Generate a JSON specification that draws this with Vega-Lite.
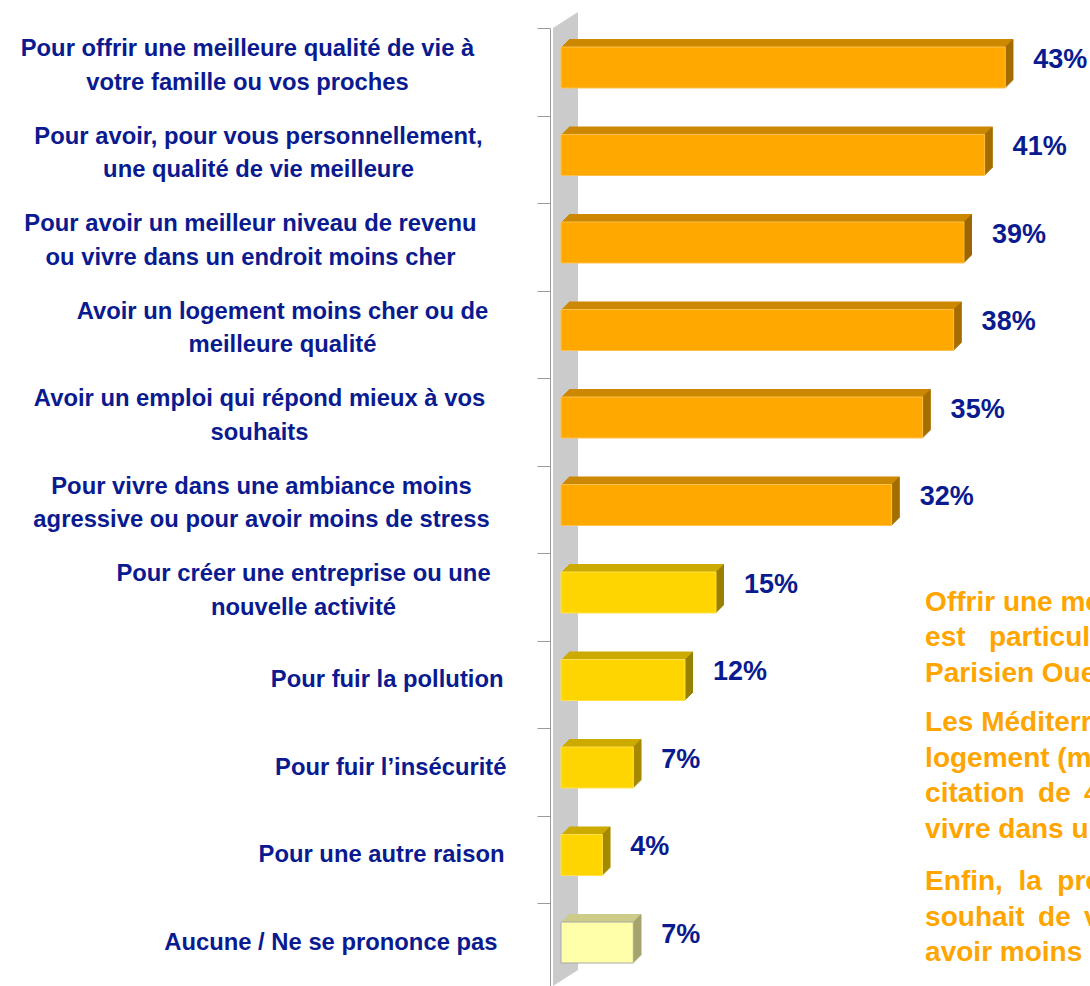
{
  "$schema": "https://vega.github.io/schema/vega-lite/v6.json",
  "width": 529,
  "height": 958,
  "autosize": {"type": "none"},
  "padding": {"left": 561, "top": 28, "right": 0, "bottom": 0},
  "background": "white",
  "config": {"view": {"stroke": null}, "font": "Liberation Sans"},
  "data": {
    "values": [
      {"raison": "Pour offrir une meilleure qualité de vie à|votre famille ou vos proches", "pct": 0.43, "groupe": "principale"},
      {"raison": "Pour avoir, pour vous personnellement,|une qualité de vie meilleure", "pct": 0.41, "groupe": "principale"},
      {"raison": "Pour avoir un meilleur niveau de revenu|ou vivre dans un endroit moins cher", "pct": 0.39, "groupe": "principale"},
      {"raison": "Avoir un logement moins cher ou de|meilleure qualité", "pct": 0.38, "groupe": "principale"},
      {"raison": "Avoir un emploi qui répond mieux à vos|souhaits", "pct": 0.35, "groupe": "principale"},
      {"raison": "Pour vivre dans une ambiance moins|agressive ou pour avoir moins de stress", "pct": 0.32, "groupe": "principale"},
      {"raison": "Pour créer une entreprise ou une|nouvelle activité", "pct": 0.15, "groupe": "secondaire"},
      {"raison": "Pour fuir la pollution", "pct": 0.12, "groupe": "secondaire"},
      {"raison": "Pour fuir l’insécurité", "pct": 0.07, "groupe": "secondaire"},
      {"raison": "Pour une autre raison", "pct": 0.04, "groupe": "secondaire"},
      {"raison": "Aucune / Ne se prononce pas", "pct": 0.07, "groupe": "nsp"}
    ]
  },
  "encoding": {
    "y": {
      "field": "raison", "type": "nominal", "sort": null,
      "scale": {
        "domain": [
          "Pour offrir une meilleure qualité de vie à|votre famille ou vos proches",
          "Pour avoir, pour vous personnellement,|une qualité de vie meilleure",
          "Pour avoir un meilleur niveau de revenu|ou vivre dans un endroit moins cher",
          "Avoir un logement moins cher ou de|meilleure qualité",
          "Avoir un emploi qui répond mieux à vos|souhaits",
          "Pour vivre dans une ambiance moins|agressive ou pour avoir moins de stress",
          "Pour créer une entreprise ou une|nouvelle activité",
          "Pour fuir la pollution",
          "Pour fuir l’insécurité",
          "Pour une autre raison",
          "Aucune / Ne se prononce pas"
        ],
        "range": [0, 962.5], "paddingInner": 0, "paddingOuter": 0
      },
      "axis": {
        "title": null, "offset": 11, "domainColor": "#9a9a9a", "domainWidth": 1,
        "tickColor": "#9a9a9a", "tickSize": 13, "tickWidth": 1, "tickOffset": -43.75,
        "labelOffset": {"condition": {"test": "indexof(datum.value, '|') >= 0", "value": 20.75}, "value": 39.25},
        "labelExpr": "split(datum.label, '|')",
        "labelFont": "Liberation Sans", "labelFontSize": 23.8, "labelFontWeight": "bold",
        "labelColor": "#0a1a8f", "labelLineHeight": 33.5, "labelLimit": 1000,
        "labelBaseline": "middle",
        "labelAlign": {"condition": {"test": "indexof(datum.value, '|') >= 0", "value": "center"}, "value": "right"},
        "labelPadding": {
          "condition": [
            {"test": "indexof(datum.value, 'Pour offrir') === 0", "value": 290},
            {"test": "indexof(datum.value, 'Pour avoir, pour') === 0", "value": 279},
            {"test": "indexof(datum.value, 'Pour avoir un meilleur') === 0", "value": 287},
            {"test": "indexof(datum.value, 'Avoir un logement') === 0", "value": 255},
            {"test": "indexof(datum.value, 'Avoir un emploi') === 0", "value": 278},
            {"test": "indexof(datum.value, 'Pour vivre') === 0", "value": 276},
            {"test": "indexof(datum.value, 'Pour créer') === 0", "value": 234},
            {"test": "indexof(datum.value, 'Pour fuir l') === 0 && indexof(datum.value, 'pollution') < 0", "value": 31},
            {"test": "indexof(datum.value, 'Aucune') === 0", "value": 40},
            {"test": "indexof(datum.value, 'Pour une autre') === 0", "value": 33}
          ],
          "value": 34
        }
      }
    }
  },
  "layer": [
    {
      "data": {"values": [{"ancre": "Pour vivre dans une ambiance moins|agressive ou pour avoir moins de stress"}]},
      "mark": {"type": "point", "filled": true, "opacity": 1, "size": 948676, "color": "#cbcbcb", "strokeWidth": 0, "yOffset": -10.25,
        "shape": "M-0.02567,-0.9671L0.02567,-1L0.02567,0.9671L-0.02567,1Z"},
      "encoding": {
        "x": {"datum": 0.004355, "type": "quantitative", "axis": null},
        "y": {"field": "ancre", "type": "nominal"}
      }
    },
    {
      "encoding": {
        "x": {"field": "pct", "type": "quantitative", "scale": {"domain": [0, 0.512], "nice": false}, "axis": null}
      },
      "layer": [
        {"mark": {"type": "bar", "size": 41, "opacity": 1, "xOffset": 1, "x2Offset": 1, "yOffset": -5.25, "y2Offset": -5.25},
         "encoding": {"color": {"condition": [{"test": "datum.groupe === 'secondaire'", "value": "#ccaa00"}, {"test": "datum.groupe === 'nsp'", "value": "#cccc88"}], "value": "#cc8800"}}},
        {"mark": {"type": "bar", "size": 41, "opacity": 1, "xOffset": 2, "x2Offset": 2, "yOffset": -6.25, "y2Offset": -6.25},
         "encoding": {"color": {"condition": [{"test": "datum.groupe === 'secondaire'", "value": "#ccaa00"}, {"test": "datum.groupe === 'nsp'", "value": "#cccc88"}], "value": "#cc8800"}}},
        {"mark": {"type": "bar", "size": 41, "opacity": 1, "xOffset": 3, "x2Offset": 3, "yOffset": -7.25, "y2Offset": -7.25},
         "encoding": {"color": {"condition": [{"test": "datum.groupe === 'secondaire'", "value": "#ccaa00"}, {"test": "datum.groupe === 'nsp'", "value": "#cccc88"}], "value": "#cc8800"}}},
        {"mark": {"type": "bar", "size": 41, "opacity": 1, "xOffset": 4, "x2Offset": 4, "yOffset": -8.25, "y2Offset": -8.25},
         "encoding": {"color": {"condition": [{"test": "datum.groupe === 'secondaire'", "value": "#ccaa00"}, {"test": "datum.groupe === 'nsp'", "value": "#cccc88"}], "value": "#cc8800"}}},
        {"mark": {"type": "bar", "size": 41, "opacity": 1, "xOffset": 5, "x2Offset": 5, "yOffset": -9.25, "y2Offset": -9.25},
         "encoding": {"color": {"condition": [{"test": "datum.groupe === 'secondaire'", "value": "#ccaa00"}, {"test": "datum.groupe === 'nsp'", "value": "#cccc88"}], "value": "#cc8800"}}},
        {"mark": {"type": "bar", "size": 41, "opacity": 1, "xOffset": 6, "x2Offset": 6, "yOffset": -10.25, "y2Offset": -10.25},
         "encoding": {"color": {"condition": [{"test": "datum.groupe === 'secondaire'", "value": "#ccaa00"}, {"test": "datum.groupe === 'nsp'", "value": "#cccc88"}], "value": "#cc8800"}}},
        {"mark": {"type": "bar", "size": 41, "opacity": 1, "xOffset": 7, "x2Offset": 7, "yOffset": -11.25, "y2Offset": -11.25},
         "encoding": {"color": {"condition": [{"test": "datum.groupe === 'secondaire'", "value": "#ccaa00"}, {"test": "datum.groupe === 'nsp'", "value": "#cccc88"}], "value": "#cc8800"}}},
        {"mark": {"type": "bar", "size": 41, "opacity": 1, "xOffset": 8, "x2Offset": 8, "yOffset": -12.25, "y2Offset": -12.25},
         "encoding": {"color": {"condition": [{"test": "datum.groupe === 'secondaire'", "value": "#ccaa00"}, {"test": "datum.groupe === 'nsp'", "value": "#cccc88"}], "value": "#cc8800"}}},
        {"mark": {"type": "tick", "size": 41, "thickness": 1, "opacity": 1, "xOffset": 0.5, "yOffset": -4.75},
         "encoding": {"color": {"condition": [{"test": "datum.groupe === 'secondaire'", "value": "#998000"}, {"test": "datum.groupe === 'nsp'", "value": "#999966"}], "value": "#996600"}}},
        {"mark": {"type": "tick", "size": 41, "thickness": 1, "opacity": 1, "xOffset": 1.5, "yOffset": -5.75},
         "encoding": {"color": {"condition": [{"test": "datum.groupe === 'secondaire'", "value": "#998000"}, {"test": "datum.groupe === 'nsp'", "value": "#999966"}], "value": "#996600"}}},
        {"mark": {"type": "tick", "size": 41, "thickness": 1, "opacity": 1, "xOffset": 2.5, "yOffset": -6.75},
         "encoding": {"color": {"condition": [{"test": "datum.groupe === 'secondaire'", "value": "#998000"}, {"test": "datum.groupe === 'nsp'", "value": "#999966"}], "value": "#996600"}}},
        {"mark": {"type": "tick", "size": 41, "thickness": 1, "opacity": 1, "xOffset": 3.5, "yOffset": -7.75},
         "encoding": {"color": {"condition": [{"test": "datum.groupe === 'secondaire'", "value": "#998000"}, {"test": "datum.groupe === 'nsp'", "value": "#999966"}], "value": "#996600"}}},
        {"mark": {"type": "tick", "size": 41, "thickness": 1, "opacity": 1, "xOffset": 4.5, "yOffset": -8.75},
         "encoding": {"color": {"condition": [{"test": "datum.groupe === 'secondaire'", "value": "#998000"}, {"test": "datum.groupe === 'nsp'", "value": "#999966"}], "value": "#996600"}}},
        {"mark": {"type": "tick", "size": 41, "thickness": 1, "opacity": 1, "xOffset": 5.5, "yOffset": -9.75},
         "encoding": {"color": {"condition": [{"test": "datum.groupe === 'secondaire'", "value": "#998000"}, {"test": "datum.groupe === 'nsp'", "value": "#999966"}], "value": "#996600"}}},
        {"mark": {"type": "tick", "size": 41, "thickness": 1, "opacity": 1, "xOffset": 6.5, "yOffset": -10.75},
         "encoding": {"color": {"condition": [{"test": "datum.groupe === 'secondaire'", "value": "#998000"}, {"test": "datum.groupe === 'nsp'", "value": "#999966"}], "value": "#996600"}}},
        {"mark": {"type": "tick", "size": 41, "thickness": 1, "opacity": 1, "xOffset": 7.5, "yOffset": -11.75},
         "encoding": {"color": {"condition": [{"test": "datum.groupe === 'secondaire'", "value": "#998000"}, {"test": "datum.groupe === 'nsp'", "value": "#999966"}], "value": "#996600"}}},
        {"mark": {"type": "bar", "size": 41, "opacity": 1, "strokeWidth": 1, "yOffset": -4.25, "y2Offset": -4.25},
         "encoding": {
           "color": {"condition": [{"test": "datum.groupe === 'secondaire'", "value": "#ffd500"}, {"test": "datum.groupe === 'nsp'", "value": "#ffffaa"}], "value": "#ffa800"},
           "stroke": {"condition": [{"test": "datum.groupe === 'secondaire'", "value": "#ffe14d"}, {"test": "datum.groupe === 'nsp'", "value": "#a8a8a8"}], "value": "#ffc04d"}
         }},
        {"mark": {"type": "text", "align": "left", "baseline": "middle", "dx": 28, "dy": -12, "fontSize": 27, "fontWeight": "bold", "font": "Liberation Sans", "color": "#0a1a8f"},
         "encoding": {"text": {"field": "pct", "type": "quantitative", "format": ".0%"}}}
      ]
    },
    {
      "data": {"values": [{"ancre": "Pour créer une entreprise ou une|nouvelle activité", "texte": "Offrir une meilleure qualité de vie à sa famille\nest\u00a0\u00a0\u00a0particulièrement\u00a0\u00a0\u00a0cité\u00a0\u00a0\u00a0par\u00a0\u00a0\u00a0les\nParisien Ouest (50%)."}]},
      "mark": {"type": "text", "align": "left", "baseline": "middle", "lineBreak": "\n", "lineHeight": 35.3, "dy": 6.25, "fontSize": 28, "fontWeight": "bold", "font": "Liberation Sans", "color": "#ffa500"},
      "encoding": {
        "x": {"datum": 0.3524, "type": "quantitative", "axis": null},
        "y": {"field": "ancre", "type": "nominal"},
        "text": {"field": "texte", "type": "nominal"}
      }
    },
    {
      "data": {"values": [{"ancre": "Pour fuir l’insécurité", "texte": "Les Méditerranéens mettent en avant le\nlogement (meilleure qualité ou moins cher), avec une\ncitation \u2009de \u200946%, \u2009et \u2009le \u2009souhait \u2009de\nvivre dans un endroit moins cher."}]},
      "mark": {"type": "text", "align": "left", "baseline": "middle", "lineBreak": "\n", "lineHeight": 35.7, "dy": -48.75, "fontSize": 28, "fontWeight": "bold", "font": "Liberation Sans", "color": "#ffa500"},
      "encoding": {
        "x": {"datum": 0.3524, "type": "quantitative", "axis": null},
        "y": {"field": "ancre", "type": "nominal"},
        "text": {"field": "texte", "type": "nominal"}
      }
    },
    {
      "data": {"values": [{"ancre": "Aucune / Ne se prononce pas", "texte": "Enfin,\u00a0\u00a0la\u00a0\u00a0proportion\u00a0\u00a0de\u00a0\u00a0Franciliens\nsouhait \u2009de \u2009vivre \u2009dans \u2009une \u2009ambiance\navoir moins de stress est élevée."}]},
      "mark": {"type": "text", "align": "left", "baseline": "middle", "lineBreak": "\n", "lineHeight": 35.5, "dy": -64.75, "fontSize": 28, "fontWeight": "bold", "font": "Liberation Sans", "color": "#ffa500"},
      "encoding": {
        "x": {"datum": 0.3524, "type": "quantitative", "axis": null},
        "y": {"field": "ancre", "type": "nominal"},
        "text": {"field": "texte", "type": "nominal"}
      }
    }
  ]
}
